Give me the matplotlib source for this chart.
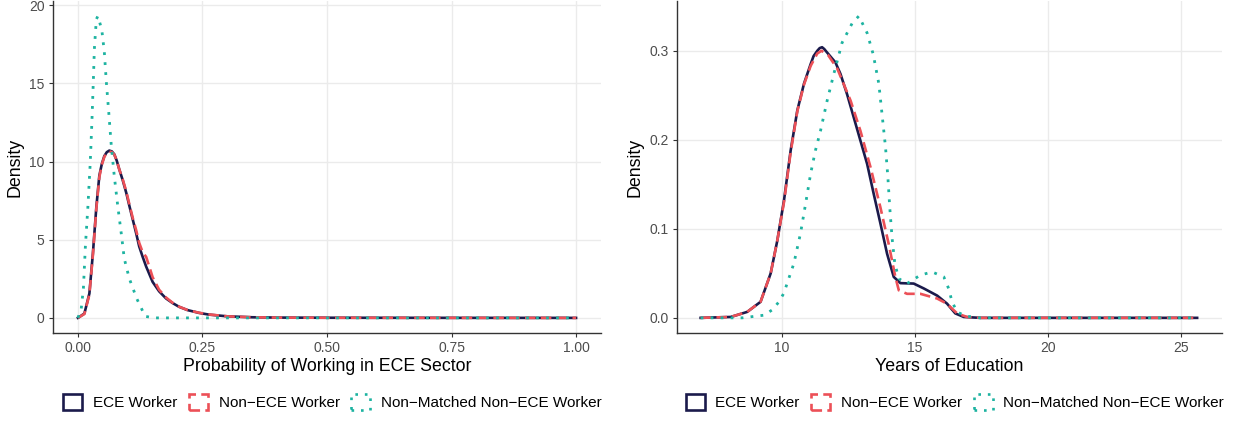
import matplotlib
matplotlib.use("Agg")
import matplotlib.pyplot as plt
from matplotlib.patches import Patch

plt.rcParams["font.family"] = ["Liberation Sans", "DejaVu Sans"]

# ---- left panel: probability of working in ECE sector ----
prob_ece = [0.0, 0.013, 0.023, 0.03, 0.037, 0.043, 0.048, 0.053, 0.058, 0.063, 0.068, 0.073,
            0.078, 0.083, 0.09, 0.097, 0.103, 0.11, 0.117, 0.123, 0.13, 0.137, 0.15, 0.163,
            0.177, 0.19, 0.203, 0.22, 0.243, 0.263, 0.3, 0.35, 0.4, 0.5, 0.75, 1.0]
dens_ece = [0.0, 0.28, 1.56, 4.1, 7.1, 9.1, 9.85, 10.35, 10.6, 10.7, 10.65, 10.46,
            10.05, 9.5, 8.8, 8.0, 7.2, 6.3, 5.4, 4.57, 3.9, 3.28, 2.3, 1.7,
            1.24, 0.95, 0.71, 0.5, 0.32, 0.21, 0.1, 0.04, 0.02, 0.01, 0.003, 0.0]
prob_non = [0.0, 0.013, 0.023, 0.03, 0.037, 0.043, 0.048, 0.053, 0.058, 0.063, 0.068, 0.073,
            0.078, 0.083, 0.09, 0.097, 0.103, 0.11, 0.117, 0.123, 0.13, 0.137, 0.15, 0.163,
            0.177, 0.19, 0.203, 0.22, 0.243, 0.263, 0.3, 0.35, 0.4, 0.5, 0.75, 1.0]
dens_non = [0.0, 0.25, 1.5, 4.0, 7.0, 9.0, 9.8, 10.3, 10.55, 10.65, 10.6, 10.45,
            10.05, 9.5, 8.85, 8.1, 7.3, 6.4, 5.6, 4.8, 4.2, 3.9, 2.6, 1.8,
            1.3, 0.97, 0.72, 0.5, 0.33, 0.22, 0.1, 0.04, 0.02, 0.01, 0.003, 0.0]
prob_nm = [0.0, 0.0067, 0.011, 0.015, 0.02, 0.0247, 0.028, 0.031, 0.033, 0.037, 0.04,
           0.042, 0.048, 0.053, 0.057, 0.062, 0.067, 0.073, 0.08, 0.087, 0.093,
           0.103, 0.118, 0.135, 0.153, 0.5, 1.0]
dens_nm = [0.0, 0.6, 1.9, 4.6, 7.1, 9.9, 12.5, 15.2, 17.2, 19.1, 19.3,
           19.1, 18.4, 17.0, 15.1, 13.1, 11.0, 9.07, 7.14, 5.4, 3.8,
           2.53, 1.24, 0.1, 0.0, 0.0, 0.0]

# ---- right panel: years of education ----
yrs_ece = [6.96, 8.09, 8.71, 9.21, 9.59, 9.84, 10.09, 10.34, 10.59, 10.84, 11.09, 11.2, 11.34,
           11.43, 11.52, 11.6, 11.71, 11.85, 12.02, 12.21, 12.46, 12.71, 12.96, 13.21, 13.46,
           13.71, 13.96, 14.21, 14.46, 14.96, 15.34, 15.84, 16.21, 16.52, 16.84, 17.46, 25.6]
dens_yrs_ece = [0.0, 0.001, 0.0067, 0.018, 0.05, 0.087, 0.132, 0.188, 0.233, 0.263, 0.285,
                0.294, 0.3, 0.303, 0.304, 0.302, 0.298, 0.293, 0.287, 0.274, 0.251, 0.225,
                0.199, 0.173, 0.139, 0.106, 0.072, 0.046, 0.039, 0.0385, 0.033, 0.025, 0.016,
                0.005, 0.001, 0.0, 0.0]
yrs_non = [6.96, 8.09, 8.71, 9.21, 9.59, 9.84, 10.09, 10.34, 10.59, 10.84, 11.09, 11.34,
           11.5, 11.75, 12.09, 12.59, 12.96, 13.34, 13.71, 14.02, 14.27, 14.4, 14.71,
           15.21, 15.84, 16.2, 16.59, 16.96, 17.46, 25.6]
dens_yrs_non = [0.0, 0.001, 0.0067, 0.018, 0.05, 0.087, 0.13, 0.186, 0.232, 0.262, 0.283,
                0.297, 0.3, 0.295, 0.28, 0.244, 0.21, 0.169, 0.124, 0.083, 0.046, 0.031,
                0.027, 0.027, 0.0217, 0.016, 0.005, 0.001, 0.0, 0.0]
yrs_nm = [6.96, 8.52, 9.34, 9.65, 9.9, 10.09, 10.21, 10.46, 10.71, 10.9, 11.09, 11.27,
          11.46, 11.71, 11.96, 12.27, 12.65, 12.9, 13.21, 13.44, 13.65, 13.77, 13.9,
          13.99, 14.06, 14.15, 14.25, 14.4, 14.71, 15.21, 15.65, 16.09, 16.27, 16.4,
          16.59, 16.9, 17.46, 25.6]
dens_yrs_nm = [0.0, 0.0, 0.003, 0.009, 0.018, 0.028, 0.039, 0.061, 0.095, 0.128, 0.162, 0.188,
               0.21, 0.244, 0.274, 0.309, 0.331, 0.339, 0.32, 0.296, 0.263, 0.229, 0.192,
               0.158, 0.124, 0.089, 0.061, 0.044, 0.0385, 0.048, 0.0516, 0.046, 0.033, 0.018,
               0.0067, 0.002, 0.0, 0.0]

labels = ["ECE Worker", "Non\u2212ECE Worker", "Non\u2212Matched Non\u2212ECE Worker"]
colors = ["#1b1a4b", "#ec5057", "#1db3a1"]
styles = ["-", (0, (4, 2)), (0, (1, 2.6))]

fig = plt.figure(figsize=(12.33, 4.23), dpi=100)
ax1 = fig.add_axes([0.043, 0.2128, 0.4444, 0.785])
ax2 = fig.add_axes([0.549, 0.2128, 0.442, 0.785])

def style_ax(ax):
    ax.set_facecolor("white")
    for s in ["top", "right"]:
        ax.spines[s].set_visible(False)
    for s in ["left", "bottom"]:
        ax.spines[s].set_color("#333333")
        ax.spines[s].set_linewidth(1.0)
    ax.grid(True, color="#ebebeb", linewidth=1.0)
    ax.set_axisbelow(True)
    ax.tick_params(colors="#333333", labelcolor="#4d4d4d", labelsize=10, length=3, width=0.8, pad=3)
    ax.set_ylabel("Density", fontsize=12.8, color="black", labelpad=4)

# left
ax1.plot(prob_ece, dens_ece, color=colors[0], linestyle=styles[0], linewidth=1.9)
ax1.plot(prob_non, dens_non, color=colors[1], linestyle=styles[1], linewidth=1.9)
ax1.plot(prob_nm, dens_nm, color=colors[2], linestyle=styles[2], linewidth=2.0)
ax1.set_xlim(-0.05, 1.05)
ax1.set_ylim(-0.965, 20.27)
ax1.set_xticks([0, 0.25, 0.5, 0.75, 1.0])
ax1.set_xticklabels(["0.00", "0.25", "0.50", "0.75", "1.00"])
ax1.set_yticks([0, 5, 10, 15, 20])
ax1.set_xlabel("Probability of Working in ECE Sector", fontsize=12.8, labelpad=2)
style_ax(ax1)

# right
ax2.plot(yrs_ece, dens_yrs_ece, color=colors[0], linestyle=styles[0], linewidth=1.9)
ax2.plot(yrs_non, dens_yrs_non, color=colors[1], linestyle=styles[1], linewidth=1.9)
ax2.plot(yrs_nm, dens_yrs_nm, color=colors[2], linestyle=styles[2], linewidth=2.0)
ax2.set_xlim(6.07, 26.53)
ax2.set_ylim(-0.017, 0.356)
ax2.set_xticks([10, 15, 20, 25])
ax2.set_yticks([0.0, 0.1, 0.2, 0.3])
ax2.set_yticklabels(["0.0", "0.1", "0.2", "0.3"])
ax2.set_xlabel("Years of Education", fontsize=12.8, labelpad=2)
style_ax(ax2)

handles = [Patch(facecolor="white", edgecolor=c, linestyle=ls, linewidth=1.9, label=l)
           for c, ls, l in zip(colors, styles, labels)]
for ax in (ax1, ax2):
    ax.legend(handles=handles, loc="center", bbox_to_anchor=(0.51, -0.208), ncol=3,
              frameon=False, fontsize=11, handlelength=1.25, handleheight=1.25,
              handletextpad=0.7, columnspacing=0.75, borderpad=0)

fig.savefig("out.png", dpi=100)
